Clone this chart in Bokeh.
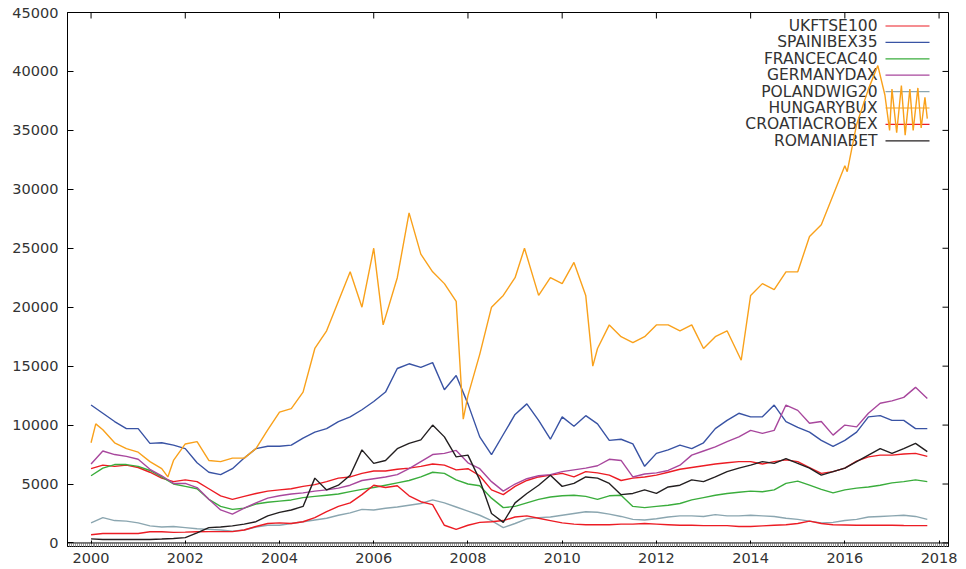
from bokeh.plotting import figure
from bokeh.models import Range1d, FixedTicker, NumeralTickFormatter, Span
from bokeh.core.properties import value
from bokeh.embed import file_html
from bokeh.resources import INLINE

# ---- data (quarterly samples on the plotted time axis) ----
years = [2000 + 0.25 * k for k in range(72)]

ftse = [6300, 6600, 6500, 6600, 6400, 6000, 5500, 5200, 5350, 5200,
        4600, 4000, 3700, 3950, 4200, 4400, 4500, 4600, 4800, 4950,
        5200, 5500, 5600, 5900, 6100, 6100, 6250, 6350, 6500, 6700,
        6600, 6200, 6300, 5700, 4500, 4100, 4800, 5300, 5600, 5750,
        5900, 5600, 6050, 5950, 5750, 5300, 5500, 5600, 5750, 6000,
        6250, 6400, 6550, 6700, 6800, 6900, 6900, 6700, 6900, 7050,
        6900, 6400, 5900, 6050, 6350, 6950, 7300, 7450, 7450, 7550,
        7600, 7350]
ibex = [11700, 11000, 10300, 9700, 9700, 8450, 8500, 8300, 8000, 6800,
        6000, 5800, 6300, 7200, 8000, 8200, 8200, 8300, 8900, 9400,
        9700, 10300, 10700, 11300, 12000, 12800, 14800, 15200, 14900, 15300,
        13000, 14200, 11800, 9000, 7500, 9200, 10900, 11800, 10400, 8800,
        10700, 9900, 10800, 10100, 8700, 8800, 8400, 6500, 7600, 7900,
        8300, 8000, 8500, 9700, 10400, 11000, 10700, 10700, 11700, 10300,
        9800, 9400, 8700, 8200, 8700, 9400, 10700, 10800, 10400, 10400,
        9700, 9700]
cac = [5700, 6350, 6650, 6650, 6500, 6150, 5600, 5000, 4800, 4600,
       3700, 3100, 2850, 2950, 3300, 3450, 3550, 3650, 3850, 3950,
       4050, 4150, 4350, 4550, 4700, 4900, 5100, 5300, 5600, 6000,
       5900, 5350, 5000, 4850, 3800, 3000, 3100, 3400, 3700, 3900,
       4000, 4050, 3950, 3700, 4000, 4050, 3100, 3000, 3100, 3200,
       3350, 3650, 3850, 4050, 4200, 4300, 4400, 4350, 4500, 5050,
       5250, 4900, 4550, 4250, 4500, 4650, 4750, 4900, 5100, 5200,
       5350, 5200]
dax = [6700, 7800, 7500, 7350, 7100, 6250, 5700, 5050, 5050, 4700,
       3700, 2800, 2450, 2950, 3400, 3800, 4000, 4150, 4250, 4400,
       4500, 4650, 4900, 5300, 5450, 5600, 5800, 6300, 6900, 7500,
       7600, 7850, 6800, 6300, 5200, 4400, 5000, 5450, 5700, 5800,
       6050, 6200, 6350, 6550, 7100, 7000, 5600, 5850, 5950, 6150,
       6600, 7450, 7800, 8150, 8600, 9000, 9550, 9300, 9550, 11700,
       11250, 10150, 10300, 9150, 10000, 9850, 11000, 11850, 12050, 12350,
       13200, 12250]
wig = [1700, 2150, 1900, 1850, 1700, 1450, 1350, 1400, 1300, 1200,
       1150, 1100, 1000, 1100, 1350, 1500, 1500, 1650, 1800, 1950,
       2100, 2350, 2550, 2850, 2800, 2950, 3050, 3200, 3350, 3650,
       3400, 3050, 2700, 2350, 1900, 1300, 1650, 2050, 2150, 2200,
       2350, 2500, 2650, 2600, 2450, 2250, 2000, 1950, 2050, 2200,
       2300, 2300, 2250, 2400, 2300, 2300, 2350, 2300, 2250, 2100,
       2000, 1850, 1700, 1750, 1900, 2000, 2200, 2250, 2300, 2350,
       2250, 2000]
crobex = [700, 800, 800, 800, 800, 950, 950, 900, 920, 950,
          960, 960, 960, 1100, 1400, 1650, 1700, 1650, 1800, 2150,
          2650, 3100, 3400, 4100, 4900, 4700, 4850, 4000, 3500, 3250,
          1500, 1150, 1500, 1750, 1800, 1900, 2200, 2300, 2100, 1900,
          1700, 1600, 1550, 1550, 1550, 1600, 1600, 1650, 1600, 1550,
          1500, 1500, 1470, 1470, 1470, 1400, 1400, 1450, 1500, 1550,
          1650, 1850, 1650, 1550, 1530, 1500, 1500, 1500, 1500, 1480,
          1470, 1470]
bet = [350, 300, 300, 300, 300, 300, 330, 380, 450, 850,
       1300, 1350, 1450, 1600, 1800, 2300, 2600, 2800, 3100, 5500,
       4500, 4900, 5750, 7900, 6750, 7000, 8000, 8450, 8750, 10000,
       9000, 7300, 7450, 5350, 2500, 1750, 3400, 4200, 4900, 5750,
       4800, 5050, 5600, 5500, 5050, 4100, 4200, 4500, 4200, 4750,
       4900, 5350, 5200, 5600, 6050, 6350, 6600, 6900, 6750, 7150,
       6750, 6350, 5750, 6050, 6350, 6900, 7450, 8000, 7600, 8000,
       8450, 7750]

# BUX is far more jagged, so it is read at its own, denser set of dates
bux_years = [2000.00, 2000.10, 2000.25, 2000.50, 2000.75, 2001.00, 2001.25, 2001.50,
             2001.63, 2001.75, 2002.00, 2002.25, 2002.50, 2002.75, 2003.00, 2003.25,
             2003.50, 2003.75, 2004.00, 2004.25, 2004.50, 2004.75, 2005.00, 2005.25,
             2005.50, 2005.75, 2006.00, 2006.20, 2006.50, 2006.75, 2007.00, 2007.25,
             2007.50, 2007.75, 2007.90, 2008.00, 2008.25, 2008.50, 2008.75, 2009.00,
             2009.20, 2009.50, 2009.75, 2010.00, 2010.25, 2010.50, 2010.65, 2010.75,
             2011.00, 2011.25, 2011.50, 2011.75, 2012.00, 2012.25, 2012.50, 2012.75,
             2013.00, 2013.25, 2013.50, 2013.80, 2014.00, 2014.25, 2014.50, 2014.75,
             2015.00, 2015.25, 2015.50, 2015.75, 2016.00, 2016.05, 2016.25, 2016.50,
             2016.70, 2016.85, 2016.95, 2017.00, 2017.10, 2017.20, 2017.28, 2017.38,
             2017.45, 2017.55, 2017.62, 2017.70, 2017.75]
bux = [8500, 10100, 9600, 8500, 8000, 7700, 6900, 6300,
       5600, 7000, 8400, 8600, 7000, 6900, 7200, 7200,
       8000, 9600, 11100, 11400, 12800, 16500, 18000, 20500,
       23000, 20000, 25000, 18500, 22500, 28000, 24500, 23000,
       22000, 20500, 10500, 12500, 16000, 20000, 21000, 22500,
       25000, 21000, 22500, 22000, 23800, 21000, 15000, 16500,
       18500, 17500, 17000, 17500, 18500, 18500, 18000, 18500,
       16500, 17500, 18000, 15500, 21000, 22000, 21500, 23000,
       23000, 26000, 27000, 29500, 32000, 31500, 35500, 38500,
       40500, 38000, 35000, 38500, 34800, 38800, 34600, 38500,
       35000, 38600, 35200, 37800, 36000]

series_names = ["UKFTSE100", "SPAINIBEX35", "FRANCECAC40", "GERMANYDAX",
                "POLANDWIG20", "HUNGARYBUX", "CROATIACROBEX", "ROMANIABET"]
series_x = [years, years, years, years, years, bux_years, years, years]
series_values = [ftse, ibex, cac, dax, wig, bux, crobex, bet]
series_colors = ["#ec1c24", "#3953a4", "#3aad3c", "#a8479d",
                 "#8ba6b0", "#f9a11b", "#ec1c24", "#231f20"]

x_ticks = [2000, 2002, 2004, 2006, 2008, 2010, 2012, 2014, 2016, 2018]
y_ticks = [0, 5000, 10000, 15000, 20000, 25000, 30000, 35000, 40000, 45000]

# ---- figure ----
X0, X1 = 1999.5, 2018.2
Y0, Y1 = -300, 45000
W, H = 958, 569
BL, BR, BT, BB = 67, 10, 12, 23
FW, FH = W - BL - BR, H - BT - BB

p = figure(width=W, height=H, x_range=Range1d(X0, X1), y_range=Range1d(Y0, Y1),
           output_backend="svg", toolbar_location=None,
           min_border_left=BL, min_border_right=BR,
           min_border_top=BT, min_border_bottom=BB)
p.xgrid.visible = False
p.ygrid.visible = False
p.outline_line_color = "black"
p.outline_line_width = 1
p.background_fill_color = "white"
p.border_fill_color = "white"

FONT = "DejaVu Sans"
TXT = "#333333"

minor_x = [X0 + i / 24 for i in range(int((X1 - X0) * 24) + 1)]
for ax, ticks in ((p.xaxis[0], x_ticks), (p.yaxis[0], y_ticks)):
    ax.ticker = FixedTicker(ticks=ticks)
    ax.formatter = NumeralTickFormatter(format="0")
    ax.major_tick_in = 6
    ax.major_tick_out = 0
    ax.minor_tick_in = 0
    ax.minor_tick_out = 0
    ax.axis_line_color = "black"
    ax.major_tick_line_color = "black"
    ax.major_label_text_font = FONT
    ax.major_label_text_font_size = "14.5px"
    ax.major_label_text_color = TXT
p.xaxis[0].ticker = FixedTicker(ticks=x_ticks, minor_ticks=minor_x)
p.xaxis[0].minor_tick_in = 3
p.xaxis[0].minor_tick_line_color = "#9a9a9a"
p.xaxis[0].major_label_standoff = 6
p.yaxis[0].major_label_standoff = 9

# zero axis line
p.add_layout(Span(location=0, dimension="width", line_color="black", line_width=1))

# mirrored ticks on the top and right border (gnuplot style)
def px_x(px):
    return X0 + (px - BL) * (X1 - X0) / FW

def px_y(py):
    return Y1 - (py - BT) * (Y1 - Y0) / FH

tick_len_y = 6 * (Y1 - Y0) / FH
tick_len_x = 6 * (X1 - X0) / FW
p.segment(x0=x_ticks, y0=[Y1] * len(x_ticks), x1=x_ticks,
          y1=[Y1 - tick_len_y] * len(x_ticks), line_color="black", line_width=1)
p.segment(x0=[X1] * len(y_ticks), y0=y_ticks, x1=[X1 - tick_len_x] * len(y_ticks),
          y1=y_ticks, line_color="black", line_width=1)

# ---- key (label left, sample right, as in the reference) ----
key_text_right = 877
key_line = (885, 929)
key_row0, key_dy = 25.5, 16.4
for i, (name, col) in enumerate(zip(series_names, series_colors)):
    yy = px_y(key_row0 + key_dy * i)
    p.text(x=[px_x(key_text_right)], y=[yy], text=[name], text_align="right",
           text_baseline="middle", text_font=value(FONT), text_font_size="15.5px",
           text_color=TXT)
    p.segment(x0=[px_x(key_line[0])], y0=[yy], x1=[px_x(key_line[1])], y1=[yy],
              line_color=col, line_width=1.2)

# ---- data lines ----
for xs, vals, col in zip(series_x, series_values, series_colors):
    p.line(xs, vals, line_color=col, line_width=1.4)

open("out.html", "w").write(file_html(p, INLINE))
